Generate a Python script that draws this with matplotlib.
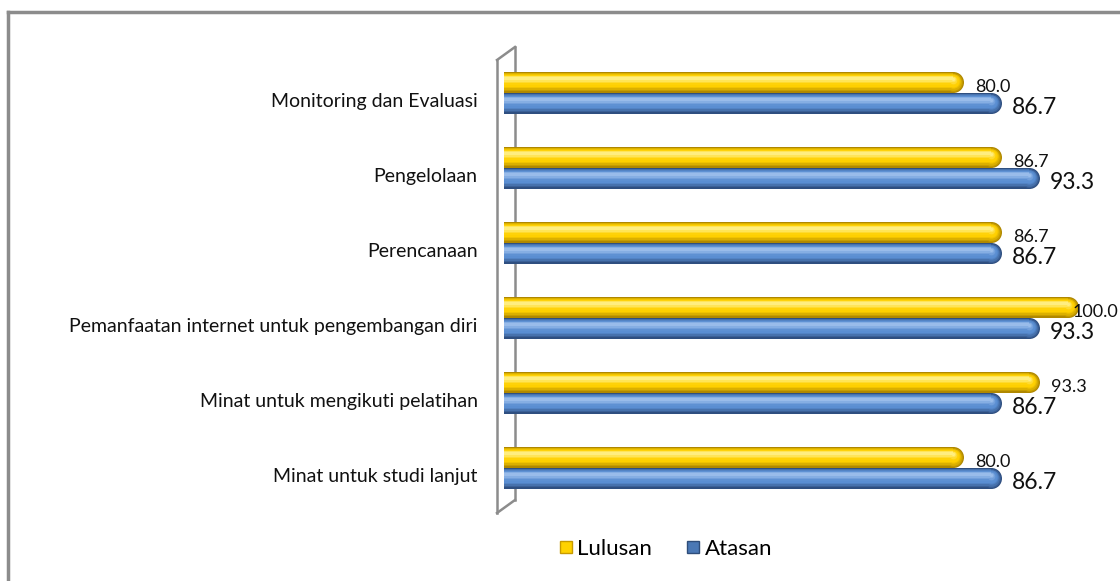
import numpy as np
import matplotlib.pyplot as plt
from matplotlib.lines import Line2D
from matplotlib.colors import to_rgb

# data (top to bottom as in the chart)
categories = ["Monitoring dan Evaluasi", "Pengelolaan", "Perencanaan",
              "Pemanfaatan internet untuk pengembangan diri",
              "Minat untuk mengikuti pelatihan", "Minat untuk studi lanjut"]
lulusan = [80.0, 86.7, 86.7, 100.0, 93.3, 80.0]
atasan = [86.7, 93.3, 86.7, 93.3, 86.7, 86.7]
series_names = ["Lulusan", "Atasan"]

plt.rcParams['font.family'] = ['Lato', 'DejaVu Sans']

W, H = 1120, 581
fig = plt.figure(figsize=(W / 100, H / 100), dpi=100)
ax = fig.add_axes([504 / W, 0.13, 603 / W, 450 / H])
ax.set_xlim(0, 105)
ax.set_ylim(5.5, -0.5)
ax.axis("off")

y = np.arange(len(categories))
bar_h = 0.28
offset = 0.14

# pixel -> data conversions for rounded caps
px_per_x = 603 / 105.0
px_per_y = 75.0
cap_r = 10.5 / px_per_x  # radius in data units
cap_pts = 21 * 0.72      # bar height in points


def mix(c1, c2, t):
    a, b = np.array(to_rgb(c1)), np.array(to_rgb(c2))
    return tuple(a + (b - a) * t)


def cylinder(vals, ypos, dark, base, light, z):
    # shaded tube: stacked bars getting thinner and lighter towards a highlight
    ends = np.asarray(vals) - cap_r
    n = 9
    for k in range(n):
        t = k / (n - 1)
        frac = 1 - 0.85 * t
        col = mix(dark, base, min(1, t * 2.2)) if t < 0.6 else mix(base, light, (t - 0.6) / 0.4 * 0.8)
        shift = -0.35 * (1 - frac) * bar_h / 2 * 1.2
        ax.barh(ypos + shift, ends, height=bar_h * frac, color=col, zorder=z + k * 0.01)
        ax.scatter(ends, ypos + shift, s=(cap_pts * frac) ** 2, color=col, marker="o",
                   zorder=z + k * 0.01, linewidths=0)


cylinder(lulusan, y - offset, "#B08800", "#FFD000", "#FFF6A0", 3)
cylinder(atasan, y + offset, "#2F4F80", "#5A8ED2", "#A9C8F0", 2)

for i in range(len(categories)):
    lx, lha = lulusan[i] + 2.0, "left"
    if lulusan[i] > 97:
        lx, lha = 106.9, "right"
    ax.text(lx, y[i] - 0.08, f"{lulusan[i]:.1f}", fontsize=13,
            va="center", ha=lha, color="#111111", zorder=6)
    ax.text(atasan[i] + 1.7, y[i] + 0.2, f"{atasan[i]:.1f}", fontsize=16.5,
            va="center", ha="left", color="#111111", zorder=6)
    ax.text(-4.6, y[i] + 0.11, categories[i], fontsize=14, va="center", ha="right",
            color="#111111")

# side wall of the 3D plot area
gray = "#8C8C8C"


def fline(xs, ys, lw=1.8):
    fig.add_artist(Line2D([x / W for x in xs], [1 - v / H for v in ys],
                          transform=fig.transFigure, color=gray, lw=lw, zorder=-1))


fline([497, 497], [60, 513])
fline([497, 515], [60, 47])
fline([515, 515], [47, 500])
fline([515, 497], [500, 513])

# outer chart frame
fline([8, 8], [12, 581], lw=2.5)
fline([8, 1120], [12, 12], lw=2.5)

handles = [Line2D([], [], marker="s", ls="", markersize=9, markerfacecolor="#FFD200",
                  markeredgecolor="#C79A00"),
           Line2D([], [], marker="s", ls="", markersize=9, markerfacecolor="#4A78B5",
                  markeredgecolor="#2E4D7A")]
fig.legend(handles, series_names, loc="center", bbox_to_anchor=(0.593, 0.055), ncol=2,
           frameon=False, fontsize=16, handletextpad=0.05, columnspacing=1.4,
           handlelength=0.9)

fig.savefig("out.png", dpi=100)
